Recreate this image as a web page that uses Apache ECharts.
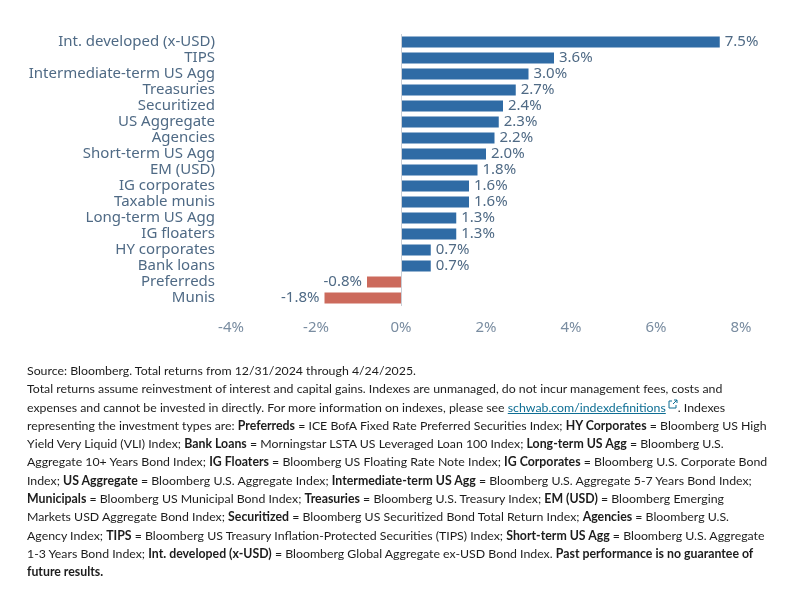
<!DOCTYPE html>
<html>
<head>
<meta charset="utf-8">
<script src="https://cdn.jsdelivr.net/npm/echarts@6/dist/echarts.min.js"></script>
<style>
  html, body { margin: 0; padding: 0; background: #fff; }
  #chart { position: absolute; left: 0; top: 0; width: 798px; height: 609px; }
  .note {
    position: absolute; left: 27px; top: 362px;
    font-family: Lato, sans-serif; font-size: 13px; line-height: 18.3px;
    color: #1c1c1c; white-space: nowrap;
  }
  .note b { font-weight: 700; }
  .note a { color: #0e6e94; text-decoration: underline; }
</style>
</head>
<body>
<div id="chart"></div>
<div class="note">
<span id="l1">Source: Bloomberg. Total returns from 12/31/2024 through 4/24/2025.</span><br>
<span id="l2">Total returns assume reinvestment of interest and capital gains. Indexes are unmanaged, do not incur management fees, costs and</span><br>
expenses and cannot be invested in directly. For more information on indexes, please see <a>schwab.com/indexdefinitions</a><svg width="10" height="10" viewBox="0 0 10 10" style="vertical-align: 3px; margin-left: 2px"><path d="M6 1h3v3M9 1L5 5M4 2H1v7h7V6" fill="none" stroke="#0e6e94" stroke-width="1"/></svg>. Indexes<br>
representing the investment types are: <b>Preferreds</b> = ICE BofA Fixed Rate Preferred Securities Index; <b>HY Corporates</b> = Bloomberg US High<br>
Yield Very Liquid (VLI) Index; <b>Bank Loans</b> = Morningstar LSTA US Leveraged Loan 100 Index; <b>Long-term US Agg</b> = Bloomberg U.S.<br>
Aggregate 10+ Years Bond Index; <b>IG Floaters</b> = Bloomberg US Floating Rate Note Index; <b>IG Corporates</b> = Bloomberg U.S. Corporate Bond<br>
Index; <b>US Aggregate</b> = Bloomberg U.S. Aggregate Index; <b>Intermediate-term US Agg</b> = Bloomberg U.S. Aggregate 5-7 Years Bond Index;<br>
<b>Municipals</b> = Bloomberg US Municipal Bond Index; <b>Treasuries</b> = Bloomberg U.S. Treasury Index; <b>EM (USD)</b> = Bloomberg Emerging<br>
Markets USD Aggregate Bond Index; <b>Securitized</b> = Bloomberg US Securitized Bond Total Return Index; <b>Agencies</b> = Bloomberg U.S.<br>
Agency Index; <b>TIPS</b> = Bloomberg US Treasury Inflation-Protected Securities (TIPS) Index; <b>Short-term US Agg</b> = Bloomberg U.S. Aggregate<br>
1-3 Years Bond Index; <b>Int. developed (x-USD)</b> = Bloomberg Global Aggregate ex-USD Bond Index. <b>Past performance is no guarantee of<br>
future results.</b>
</div>
<script>
const categories = [
  "Int. developed (x-USD)", "TIPS", "Intermediate-term US Agg", "Treasuries", "Securitized",
  "US Aggregate", "Agencies", "Short-term US Agg", "EM (USD)", "IG corporates",
  "Taxable munis", "Long-term US Agg", "IG floaters", "HY corporates", "Bank loans",
  "Preferreds", "Munis"
]
const returns = [7.5, 3.6, 3.0, 2.7, 2.4, 2.3, 2.2, 2.0, 1.8, 1.6, 1.6, 1.3, 1.3, 0.7, 0.7, -0.8, -1.8]
const xMin = -4
const xMax = 8
const xStep = 2

// fit footnote width to the reference (long line spans ~696px)
const note = document.querySelector(".note")
const w2 = document.getElementById("l2").getBoundingClientRect().width
note.style.fontSize = (13 * 696 / w2).toFixed(2) + "px"

const chart = echarts.init(document.getElementById("chart"))

const font = "Noto Sans"

chart.setOption({
  animation: false,
  grid: { left: 231, right: 57, top: 34, bottom: 303 },
  xAxis: {
    type: "value",
    min: xMin,
    max: xMax,
    interval: xStep,
    axisLine: { show: false },
    axisTick: { show: false },
    splitLine: { show: false },
    axisLabel: {
      margin: 14,
      color: "#7a8da1",
      fontFamily: font,
      fontSize: 15,
      formatter: v => v + "%"
    }
  },
  yAxis: {
    type: "category",
    inverse: true,
    data: categories,
    axisLine: { show: false },
    axisTick: { show: false },
    axisLabel: {
      interval: 0,
      margin: 16,
      color: "#4f6a85",
      fontFamily: font,
      fontSize: 15
    }
  },
  series: [
    {
      type: "bar",
      barWidth: 11,
      data: returns.map(v => ({
        value: v,
        itemStyle: { color: v >= 0 ? "#2f6ba5" : "#cc6a5c" },
        label: { position: v >= 0 ? "right" : "left" }
      })),
      label: {
        show: true,
        distance: 5,
        color: "#4f6a85",
        fontFamily: font,
        fontSize: 15,
        formatter: p => p.value.toFixed(1) + "%"
      },
      markLine: {
        silent: true,
        symbol: "none",
        label: { show: false },
        lineStyle: { color: "#c8ced6", width: 1, type: "solid" },
        data: [{ xAxis: 0 }]
      }
    }
  ]
})
</script>
</body>
</html>
